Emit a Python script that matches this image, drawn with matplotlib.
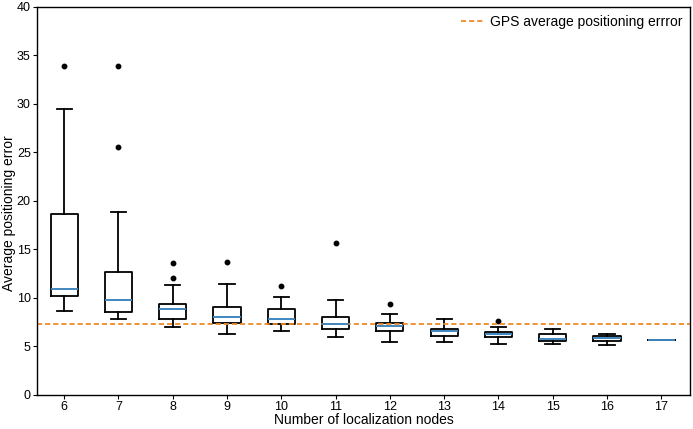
import matplotlib
matplotlib.use('Agg')
import matplotlib.pyplot as plt

plt.rcParams['font.family'] = ['Liberation Sans', 'DejaVu Sans']

# number of localization nodes
nodes = [6, 7, 8, 9, 10, 11, 12, 13, 14, 15, 16, 17]
# box statistics
whislo = [8.7, 7.8, 7.05, 6.3, 6.63, 6.0, 5.5, 5.5, 5.25, 5.25, 5.2, 5.65]
q1 = [10.2, 8.6, 7.8, 7.4, 7.29, 6.8, 6.57, 6.08, 5.95, 5.6, 5.6, 5.65]
med = [10.9, 9.8, 8.87, 8.04, 7.83, 7.3, 7.1, 6.6, 6.25, 5.8, 5.85, 5.65]
q3 = [18.7, 12.7, 9.35, 9.1, 8.83, 8.07, 7.42, 6.77, 6.5, 6.25, 6.1, 5.65]
whishi = [29.5, 18.9, 11.3, 11.4, 10.1, 9.8, 8.35, 7.8, 7.0, 6.8, 6.3, 5.65]
outliers = [[33.9], [33.9, 25.6], [13.6, 12.06], [13.7], [11.2], [15.7], [9.4],
            [], [7.6], [], [], []]
gps_error = 7.3

stats = []
for i, n in enumerate(nodes):
    stats.append(dict(label=str(n), whislo=whislo[i], q1=q1[i], med=med[i],
                      q3=q3[i], whishi=whishi[i], fliers=outliers[i]))

fig = plt.figure(figsize=(6.93, 4.29), dpi=100)
ax = fig.add_axes([0.0534, 0.0793, 0.9423, 0.9044])

ax.bxp(stats, widths=0.5, capwidths=0.28, patch_artist=False,
       boxprops=dict(color='black', linewidth=1.3),
       whiskerprops=dict(color='black', linewidth=1.3),
       capprops=dict(color='black', linewidth=1.3),
       medianprops=dict(color='#3f86bf', linewidth=1.4),
       flierprops=dict(marker='o', markerfacecolor='black', markeredgecolor='black',
                       markersize=3.2, linestyle='none'))

ax.axhline(gps_error, color='#f0892a', linestyle='--', linewidth=1.3,
           dashes=(2.8, 1.7), label='GPS average positioning errror')

ax.set_xlim(0.5, 12.53)
ax.set_ylim(0, 40)
ax.set_yticks(range(0, 41, 5))
ax.tick_params(direction='out', length=3, labelsize=9, pad=1.5, top=False, right=False)
ax.set_xlabel('Number of localization nodes', fontsize=10)
ax.set_ylabel('Average positioning error', fontsize=10)
ax.xaxis.set_label_coords(0.5, -0.047)
ax.yaxis.set_label_coords(-0.032, 0.47)
for s in ax.spines.values():
    s.set_linewidth(1.0)

ax.legend(loc='upper right', frameon=False, fontsize=10, handlelength=1.6,
          handletextpad=0.5, borderaxespad=0.15)

fig.savefig('out.png', dpi=100)
